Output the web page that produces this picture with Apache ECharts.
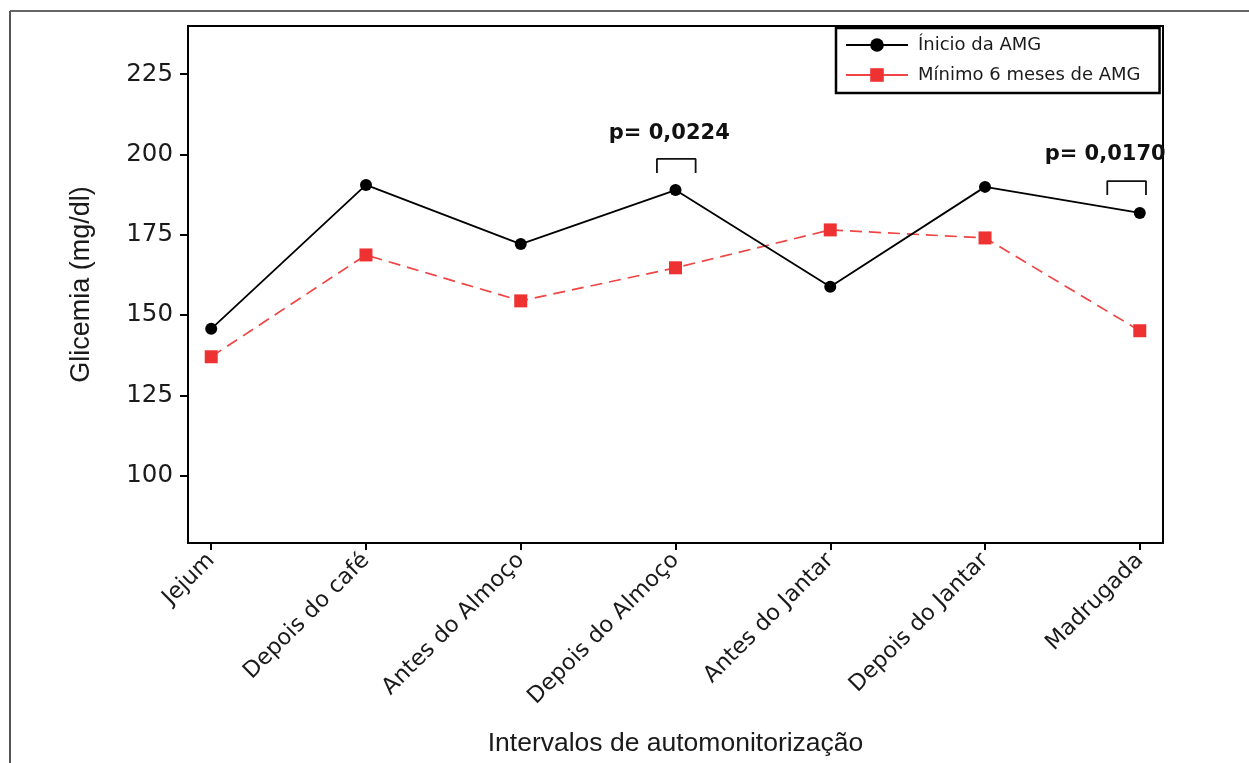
<!DOCTYPE html>
<html>
<head>
<meta charset="utf-8">
<script src="https://cdn.jsdelivr.net/npm/echarts@6/dist/echarts.min.js"></script>
<style>
html,body{margin:0;padding:0;background:#fff;}
#chart{width:1249px;height:763px;}
</style>
</head>
<body>
<div id="chart"></div>
<script>
// ---- data ----
const categories = ['Jejum', 'Depois do café', 'Antes do Almoço', 'Depois do Almoço', 'Antes do Jantar', 'Depois do Jantar', 'Madrugada'];
const seriesNames = ['Ínicio da AMG', 'Mínimo 6 meses de AMG'];
const inicioValues = [145.7, 190.5, 172.1, 188.9, 158.8, 189.9, 181.8];
const minimoValues = [137.0, 168.7, 154.4, 164.7, 176.5, 174.0, 145.1];
const yTickValues = [100, 125, 150, 175, 200, 225];
const pLabels = ['p= 0,0224', 'p= 0,0170'];
// annotation anchors in data coordinates (category index, glicemia)
const pLabelX = [2.96, 5.776];
const pLabelY = [206.4, 199.9];
const bracketX0 = [2.88, 5.79];
const bracketX1 = [3.13, 6.04];
const bracketTop = [198.6, 191.7];
const bracketBottom = [194.2, 187.4];

const chart = echarts.init(document.getElementById('chart'), null, {renderer: 'canvas'});

const catIdx = categories.map((c, i) => i);
const toPairs = vals => vals.map((v, i) => [i, v]);

const bracketSeries = bracketX0.map((x0, k) => ({
  type: 'line',
  name: 'bracket' + k,
  silent: true,
  symbol: 'none',
  animation: false,
  lineStyle: {color: '#111', width: 1.8},
  data: [[x0, bracketBottom[k]], [x0, bracketTop[k]], [bracketX1[k], bracketTop[k]], [bracketX1[k], bracketBottom[k]]],
  z: 3
}));

const labelSeries = {
  type: 'scatter',
  name: 'pvalues',
  silent: true,
  symbolSize: 1,
  itemStyle: {color: 'rgba(255,255,255,0)', opacity: 1},
  animation: false,
  label: {
    show: true,
    position: 'inside',
    formatter: p => p.data.name,
    fontFamily: 'DejaVu Sans',
    fontWeight: 'bold',
    fontSize: 21,
    color: '#111',
    opacity: 1,
    textBorderWidth: 0,
    textBorderColor: 'transparent'
  },
  data: pLabels.map((t, k) => ({name: t, value: [pLabelX[k], pLabelY[k]]})),
  z: 5
};

const option = {
  backgroundColor: '#fff',
  animation: false,
  graphic: [
    {type: 'line', shape: {x1: 10, y1: 11, x2: 1249, y2: 11}, style: {stroke: '#333', lineWidth: 1.5}},
    {type: 'line', shape: {x1: 10, y1: 11, x2: 10, y2: 763}, style: {stroke: '#555', lineWidth: 2}}
  ],
  grid: {
    left: 188, right: 86, top: 26, bottom: 220,
    outerBoundsMode: 'none',
    containLabel: false,
    show: true, borderColor: '#000', borderWidth: 2, backgroundColor: 'transparent'
  },
  legend: {
    orient: 'vertical',
    left: 836,
    top: 28,
    padding: [8, 19, 9, 9],
    itemGap: 12,
    itemWidth: 62,
    itemHeight: 17,
    borderColor: '#000',
    borderWidth: 2.5,
    backgroundColor: '#fff',
    data: seriesNames,
    lineStyle: {type: 'solid'},
    textStyle: {fontFamily: 'DejaVu Sans', fontSize: 18, color: '#1a1a1a', padding: [0, 0, 0, 5]}
  },
  xAxis: {
    type: 'value',
    min: -0.15,
    max: 6.15,
    name: 'Intervalos de automonitorização',
    nameLocation: 'middle',
    nameGap: 187,
    nameTextStyle: {fontFamily: 'Liberation Sans', fontSize: 26.5, color: '#1a1a1a'},
    splitLine: {show: false},
    axisLine: {show: true, onZero: false, lineStyle: {color: '#000', width: 2}},
    axisTick: {show: true, customValues: catIdx, length: 7, lineStyle: {color: '#000', width: 2}},
    axisLabel: {
      customValues: catIdx,
      rotate: 45,
      margin: 14,
      formatter: v => categories[Math.round(v)],
      fontFamily: 'DejaVu Sans',
      fontSize: 22.5,
      color: '#1a1a1a'
    }
  },
  yAxis: {
    type: 'value',
    min: 79,
    max: 240,
    name: 'Glicemia (mg/dl)',
    nameLocation: 'middle',
    nameGap: 93,
    nameRotate: 90,
    nameTextStyle: {fontFamily: 'Liberation Sans', fontSize: 27, color: '#1a1a1a'},
    splitLine: {show: false},
    axisLine: {show: true, onZero: false, lineStyle: {color: '#000', width: 2}},
    axisTick: {show: true, customValues: yTickValues, length: 8, lineStyle: {color: '#000', width: 2}},
    axisLabel: {
      customValues: yTickValues,
      margin: 15,
      fontFamily: 'DejaVu Sans',
      fontSize: 24.5,
      color: '#1a1a1a'
    }
  },
  series: [
    {
      type: 'line',
      name: seriesNames[0],
      data: toPairs(inicioValues),
      symbol: 'circle',
      symbolSize: 12,
      itemStyle: {color: '#000'},
      lineStyle: {color: '#000', width: 1.8},
      z: 4
    },
    {
      type: 'line',
      name: seriesNames[1],
      data: toPairs(minimoValues),
      symbol: 'rect',
      symbolSize: 13,
      itemStyle: {color: '#ee3232'},
      lineStyle: {color: '#f04545', width: 1.7, type: [12, 7]},
      z: 3
    },
    ...bracketSeries,
    labelSeries
  ]
};
chart.setOption(option);
</script>
</body>
</html>
